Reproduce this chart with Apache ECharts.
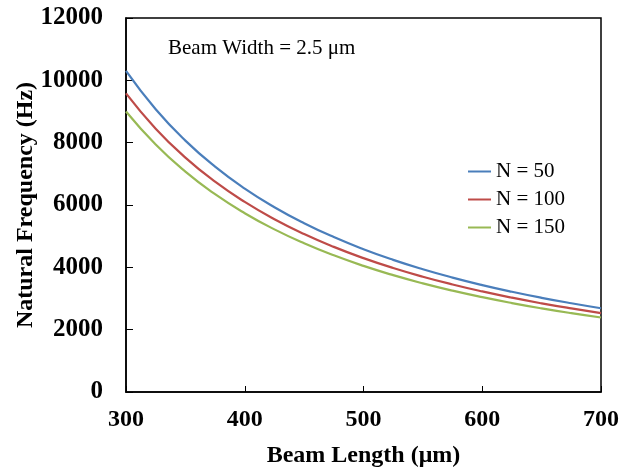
<!DOCTYPE html>
<html>
<head>
<meta charset="utf-8">
<script src="https://cdn.jsdelivr.net/npm/echarts@6/dist/echarts.min.js"></script>
<style>
html,body{margin:0;padding:0;background:#fff;}
#chart{width:622px;height:473px;}
</style>
</head>
<body>
<div id="chart"></div>
<script>
var beamLength = [300,325,350,375,400,425,450,475,500,525,550,575,600,625,650,675,700];
var n50  = [10300,9072,8066,7230,6526,5929,5415,4970,4581,4240,3939,3671,3431,3216,3022,2847,2687];
var n100 = [9580,8449,7521,6749,6099,5545,5069,4656,4296,3979,3699,3450,3227,3026,2845,2682,2533];
var n150 = [9000,7941,7071,6347,5737,5218,4772,4385,4046,3749,3486,3251,3042,2854,2684,2530,2390];
var seriesNames = ['N = 50','N = 100','N = 150'];
var xTicks = [300,400,500,600,700];
var yTicks = [0,2000,4000,6000,8000,10000,12000];

function pairs(xs, ys){ return xs.map(function(x,i){ return [x, ys[i]]; }); }

var FONT = '"Liberation Serif","Times New Roman",serif';
var colors = ['#4a7ebb','#be4b48','#98b954'];
var chart = echarts.init(document.getElementById('chart'));
var data = [n50, n100, n150];

chart.setOption({
  animation: false,
  backgroundColor: '#fff',
  grid: {left:126, right:20, top:18, bottom:81, show:true, borderColor:'#000', borderWidth:1.5, backgroundColor:'transparent'},
  legend: {
    orient:'vertical', left:463, top:156,
    icon:'rect', itemWidth:23, itemHeight:2, itemGap:7,
    textStyle:{fontFamily:FONT, fontSize:21, color:'#000'},
    data: seriesNames
  },
  graphic: [{
    type:'text', left:168, top:38,
    style:{text:'Beam Width = 2.5 μm', font:'21px ' + FONT, fill:'#000'}
  }],
  xAxis: {
    type:'value', min:xTicks[0], max:xTicks[xTicks.length-1], interval:100,
    name:'Beam Length (μm)', nameLocation:'middle', nameGap:52, nameMoveOverlap:false,
    nameTextStyle:{fontFamily:FONT, fontSize:24, fontWeight:'bold', color:'#000'},
    axisLine:{show:true, lineStyle:{color:'#000', width:1.5}},
    axisTick:{show:true, inside:true, length:6, lineStyle:{color:'#000'}},
    axisLabel:{fontFamily:FONT, fontSize:24, fontWeight:'bold', color:'#000', margin:16,
      formatter:function(v){ return String(v); }},
    splitLine:{show:false}
  },
  yAxis: {
    type:'value', min:yTicks[0], max:yTicks[yTicks.length-1], interval:2000,
    name:'Natural Frequency (Hz)', nameLocation:'middle', nameGap:88, nameRotate:90, nameMoveOverlap:false,
    nameTextStyle:{fontFamily:FONT, fontSize:24, fontWeight:'bold', color:'#000'},
    axisLine:{show:true, lineStyle:{color:'#000', width:1.5}},
    axisTick:{show:true, inside:true, length:7, lineStyle:{color:'#000'}},
    axisLabel:{fontFamily:FONT, fontSize:25, fontWeight:'bold', color:'#000', margin:23,
      formatter:function(v){ return String(v); }},
    splitLine:{show:false}
  },
  series: seriesNames.map(function(nm, i){
    return {
      name:nm, type:'line', smooth:true, showSymbol:false, symbol:'none',
      data:pairs(beamLength, data[i]),
      lineStyle:{color:colors[i], width:2.2},
      itemStyle:{color:colors[i]}
    };
  })
});
</script>
</body>
</html>
